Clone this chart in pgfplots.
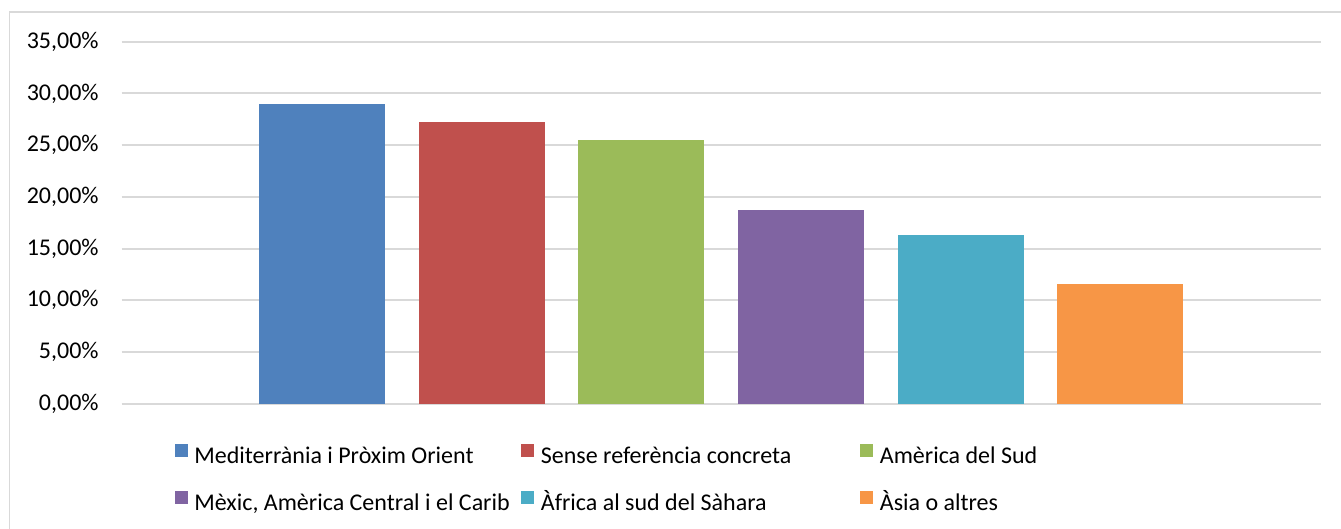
\documentclass[border=0pt]{standalone}
\usepackage{pgfplots}
\pgfplotsset{compat=1.18}
\usepackage{fontspec}
\setmainfont{Carlito}
\definecolor{gridc}{HTML}{D9D9D9}
\definecolor{c1}{HTML}{4F81BD}
\definecolor{c2}{HTML}{C0504D}
\definecolor{c3}{HTML}{9BBB59}
\definecolor{c4}{HTML}{8064A2}
\definecolor{c5}{HTML}{4BACC6}
\definecolor{c6}{HTML}{F79646}
\begin{document}
\begin{tikzpicture}
\path[use as bounding box] (-60.85pt,-62.65pt) rectangle (609.65pt,201.85pt);
\draw[gridc, line width=0.9pt] (-56.1pt,-120pt) rectangle (700pt,195.85pt);
\begin{axis}[
  at={(0,0)}, anchor=south west,
  scale only axis,
  width=599.5pt, height=181pt,
  xmin=-1.2565, xmax=6.2565,
  ymin=0, ymax=35,
  ytick={0,5,10,15,20,25,30,35},
  xtick=\empty,
  ymajorgrids,
  grid style={gridc, line width=1pt},
  axis line style={draw=none},
  major tick length=0pt,
  ybar, bar shift=0pt, bar width=0.789,
  yticklabel={\pgfmathprintnumber[fixed,fixed zerofill,precision=2,use comma,assume math mode=true]{\tick}\%},
  yticklabel style={font=\fontsize{12}{14}\selectfont, anchor=east, inner sep=0pt, xshift=-11.35pt},
  legend columns=3,
  legend cell align=left,
  legend image code/.code={\fill[#1, draw=none] (0pt,0pt) rectangle (6.5pt,6.5pt); \path (9.75pt,0pt);},
  legend style={
    at={(rel axis cs:0.044,0)}, anchor=north west, yshift=-20pt,
    draw=none, fill=none, inner sep=0pt, row sep=11pt, column sep=0pt,
    font=\fontsize{12}{14}\selectfont,
    nodes={inner sep=0pt, text height=9pt, text depth=3pt},
  },
]
\addplot[fill=c1, draw=none] coordinates {(0,29.01)};
\addlegendentry{\makebox[163.5pt][l]{Mediterrània i Pròxim Orient}}
\addplot[fill=c2, draw=none] coordinates {(1,27.28)};
\addlegendentry{\makebox[159.75pt][l]{Sense referència concreta}}
\addplot[fill=c3, draw=none] coordinates {(2,25.45)};
\addlegendentry{Amèrica del Sud}
\addplot[fill=c4, draw=none] coordinates {(3,18.77)};
\addlegendentry{\makebox[163.5pt][l]{Mèxic, Amèrica Central i el Carib}}
\addplot[fill=c5, draw=none] coordinates {(4,16.35)};
\addlegendentry{\makebox[159.75pt][l]{Àfrica al sud del Sàhara}}
\addplot[fill=c6, draw=none] coordinates {(5,11.55)};
\addlegendentry{Àsia o altres}
\end{axis}
\end{tikzpicture}
\end{document}
